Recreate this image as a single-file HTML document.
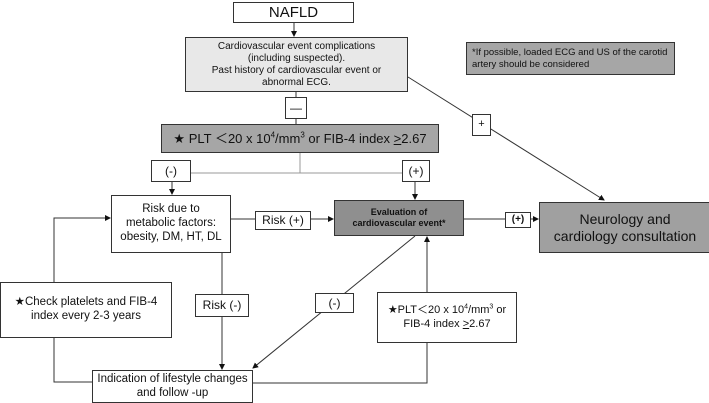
<!DOCTYPE html>
<html><head><style>
body{margin:0;width:709px;height:403px;background:#fff;position:relative;overflow:hidden;font-family:"Liberation Sans",sans-serif;}
.b{position:absolute;box-sizing:border-box;border:1px solid #333;background:#fff;display:flex;align-items:center;justify-content:center;text-align:center;color:#111;line-height:1.2;}
sup{line-height:0}
svg{position:absolute;left:0;top:0}
</style></head><body>
<svg width="709" height="403">
<defs><marker id="a" markerWidth="6" markerHeight="6" refX="5" refY="3" orient="auto"><path d="M0,0L6,3L0,6z" fill="#111"/></marker></defs>
<g stroke="#333" stroke-width="1" fill="none">
<line x1="294" y1="23" x2="294" y2="36" marker-end="url(#a)"/>
<line x1="296" y1="92" x2="296" y2="124"/>
<line x1="300" y1="153" x2="300" y2="173" stroke="#999"/>
<line x1="191" y1="173" x2="402" y2="173" stroke="#999"/>
<line x1="172" y1="182" x2="172" y2="194" marker-end="url(#a)"/>
<line x1="415" y1="182" x2="415" y2="199" marker-end="url(#a)"/>
<line x1="408" y1="77" x2="604" y2="200" marker-end="url(#a)"/>
<line x1="231" y1="219" x2="333" y2="219" marker-end="url(#a)"/>
<line x1="464" y1="219" x2="538" y2="219" marker-end="url(#a)"/>
<polyline points="54,282 54,218 110,218" marker-end="url(#a)"/>
<polyline points="54,338 54,382 92,382"/>
<line x1="222" y1="253" x2="222" y2="369" marker-end="url(#a)"/>
<line x1="415" y1="236" x2="253" y2="368" marker-end="url(#a)"/>
<polyline points="253,383 427,383 427,343"/>
<line x1="427" y1="292" x2="427" y2="237" marker-end="url(#a)"/>
</g></svg>
<div class="b" style="left:233px;top:2px;width:121px;height:21px;font-size:15px">NAFLD</div>
<div class="b" style="left:185px;top:37px;width:223px;height:55px;background:#e8e8e8;font-size:10px"><span>Cardiovascular event complications<br>(including suspected).<br>Past history of cardiovascular event or<br>abnormal ECG.</span></div>
<div class="b" style="left:466px;top:42px;width:209px;height:33px;background:#a6a6a6;font-size:9.5px;justify-content:flex-start;text-align:left;padding-left:5px"><span>*If possible, loaded ECG and US of the carotid artery should be considered</span></div>
<div class="b" style="left:285px;top:97px;width:22px;height:22px;font-size:12px">—</div>
<div class="b" style="left:161px;top:124px;width:278px;height:29px;background:#a6a6a6;font-size:13px"><span>★ PLT ＜20 x 10<sup style="font-size:8px">4</sup>/mm<sup style="font-size:8px">3</sup> or FIB-4 index <u>&gt;</u>2.67</span></div>
<div class="b" style="left:151px;top:160px;width:40px;height:22px;font-size:12px">(-)</div>
<div class="b" style="left:402px;top:160px;width:28px;height:22px;font-size:12px">(+)</div>
<div class="b" style="left:472px;top:114px;width:19px;height:22px;font-size:11px">+</div>
<div class="b" style="left:111px;top:195px;width:120px;height:58px;font-size:11.5px"><span>Risk due to<br>metabolic factors:<br>obesity, DM, HT, DL</span></div>
<div class="b" style="left:255px;top:211px;width:56px;height:19px;font-size:12px">Risk (+)</div>
<div class="b" style="left:334px;top:200px;width:130px;height:36px;background:#8f8f8f;font-size:9px;font-weight:bold"><span>Evaluation of<br>cardiovascular event*</span></div>
<div class="b" style="left:505px;top:212px;width:26px;height:16px;font-size:10px;font-weight:bold">(+)</div>
<div class="b" style="left:539px;top:202px;width:172px;height:51px;background:#a0a0a0;font-size:14px"><span>Neurology and<br>cardiology consultation</span></div>
<div class="b" style="left:0px;top:282px;width:172px;height:56px;font-size:11.5px"><span>★Check platelets and FIB-4<br>index every 2-3 years</span></div>
<div class="b" style="left:195px;top:294px;width:54px;height:23px;font-size:12px">Risk (-)</div>
<div class="b" style="left:315px;top:293px;width:39px;height:20px;font-size:12px">(-)</div>
<div class="b" style="left:377px;top:292px;width:140px;height:51px;font-size:11px"><span>★PLT＜20 x 10<sup style="font-size:7px">4</sup>/mm<sup style="font-size:7px">3</sup> or<br>FIB-4 index <u>&gt;</u>2.67</span></div>
<div class="b" style="left:92px;top:370px;width:161px;height:33px;font-size:11.5px"><span>Indication of lifestyle changes<br>and follow -up</span></div>
</body></html>
